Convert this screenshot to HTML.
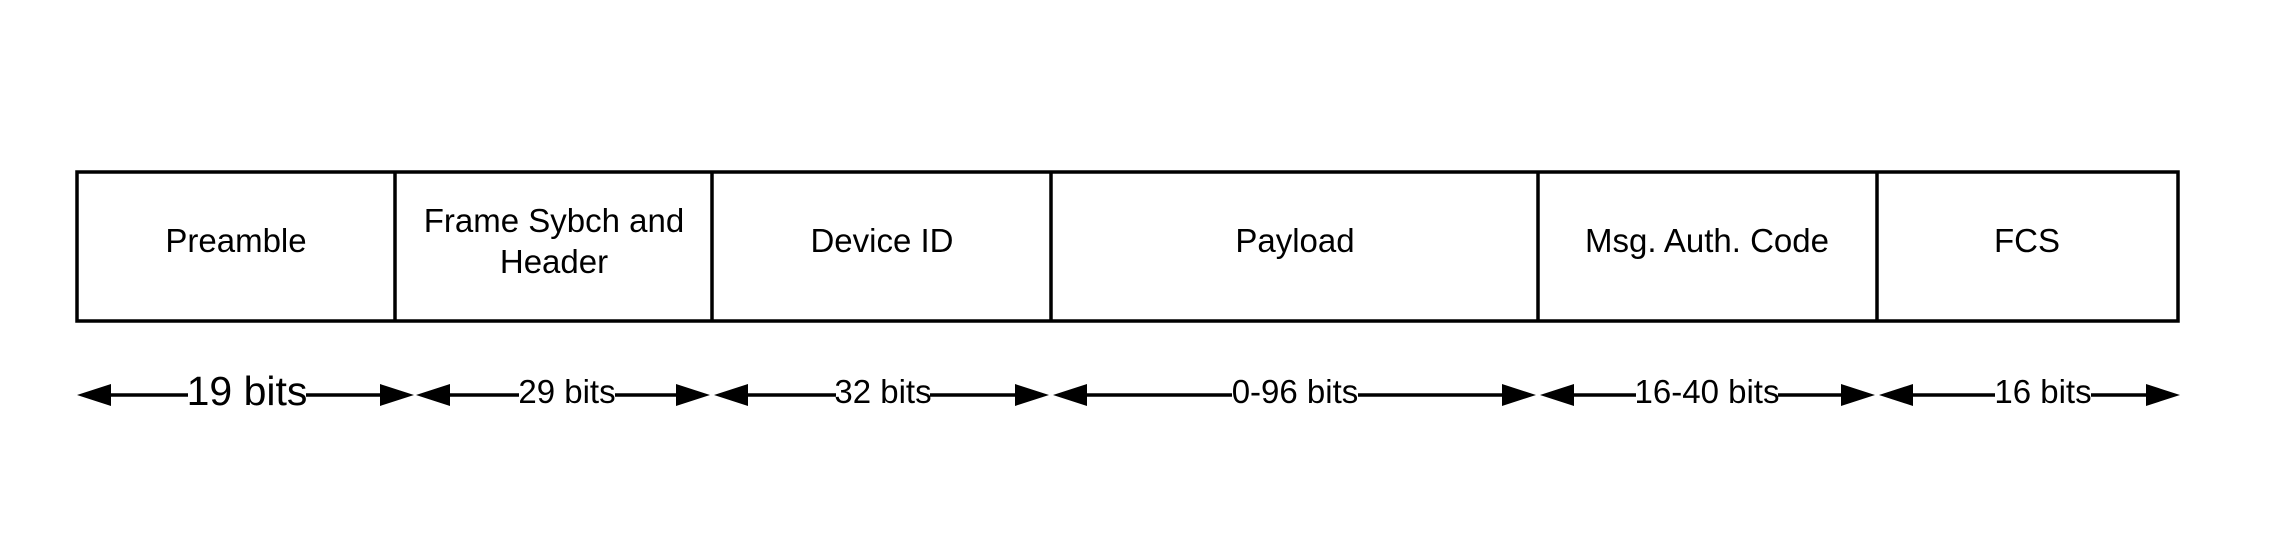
<!DOCTYPE html>
<html><head><meta charset="utf-8"><style>html,body{margin:0;padding:0;background:#fff}svg{display:block}</style></head>
<body>
<svg width="2274" height="551" viewBox="0 0 2274 551" xmlns="http://www.w3.org/2000/svg" font-family="Liberation Sans, Arial, sans-serif">
<rect width="2274" height="551" fill="#fff"/>
<g stroke="#000" stroke-width="3.5" fill="none">
<rect x="77" y="172" width="2101" height="149"/>
<line x1="395" y1="172" x2="395" y2="321"/>
<line x1="712" y1="172" x2="712" y2="321"/>
<line x1="1051" y1="172" x2="1051" y2="321"/>
<line x1="1538" y1="172" x2="1538" y2="321"/>
<line x1="1877" y1="172" x2="1877" y2="321"/>
</g>
<g font-size="33" text-anchor="middle" fill="#000">
<text x="236" y="252">Preamble</text>
<text x="554" y="232">Frame Sybch and</text>
<text x="554" y="273">Header</text>
<text x="882" y="252">Device ID</text>
<text x="1295" y="252">Payload</text>
<text x="1707" y="252">Msg. Auth. Code</text>
<text x="2027" y="252">FCS</text>
</g>
<g stroke="#000" stroke-width="3.5">
<line x1="100" y1="395" x2="392" y2="395"/>
<line x1="440" y1="395" x2="689" y2="395"/>
<line x1="736" y1="395" x2="1028" y2="395"/>
<line x1="1075" y1="395" x2="1515" y2="395"/>
<line x1="1562" y1="395" x2="1854" y2="395"/>
<line x1="1901" y1="395" x2="2155" y2="395"/>
</g>
<g fill="#000">
<polygon points="77,395 111,384 111,406"/><polygon points="414,395 380,384 380,406"/>
<polygon points="416,395 450,384 450,406"/><polygon points="710,395 676,384 676,406"/>
<polygon points="714,395 748,384 748,406"/><polygon points="1049,395 1015,384 1015,406"/>
<polygon points="1053,395 1087,384 1087,406"/><polygon points="1536,395 1502,384 1502,406"/>
<polygon points="1540,395 1574,384 1574,406"/><polygon points="1875,395 1841,384 1841,406"/>
<polygon points="1879,395 1913,384 1913,406"/><polygon points="2180,395 2146,384 2146,406"/>
</g>
<g fill="#fff">
<rect x="188" y="373" width="118" height="40"/>
<rect x="519" y="378" width="96" height="32"/>
<rect x="836" y="378" width="94" height="32"/>
<rect x="1232" y="378" width="126" height="32"/>
<rect x="1636" y="378" width="142" height="32"/>
<rect x="1995" y="378" width="96" height="32"/>
</g>
<g text-anchor="middle" fill="#000">
<text x="247" y="405" font-size="41">19 bits</text>
<text x="567" y="403" font-size="33">29 bits</text>
<text x="883" y="403" font-size="33">32 bits</text>
<text x="1295" y="403" font-size="33">0-96 bits</text>
<text x="1707" y="403" font-size="33">16-40 bits</text>
<text x="2043" y="403" font-size="33">16 bits</text>
</g>
</svg>
</body></html>
